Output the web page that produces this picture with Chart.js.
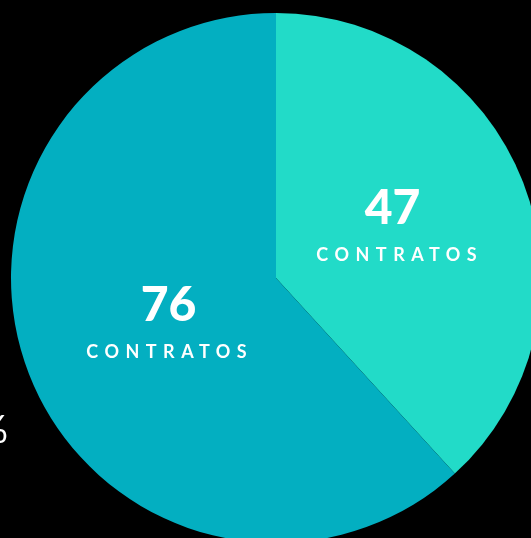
<!DOCTYPE html>
<html>
<head>
<meta charset="utf-8">
<script src="https://cdn.jsdelivr.net/npm/chart.js@4"></script>
<style>
  html, body { margin: 0; padding: 0; background: #000; }
  #wrap { position: relative; width: 531px; height: 538px; overflow: hidden; background: #000; }
  #chart { position: absolute; left: 0; top: 0; }
</style>
</head>
<body>
<div id="wrap"><canvas id="chart" width="560" height="560"></canvas></div>
<script>
// Chart data
const labels = ['Contratos A', 'Contratos B'];
const values = [47, 76];
const captions = ['CONTRATOS', 'CONTRATOS'];
const colors = ['#22dbc8', '#03afc1'];

// Draws the number + caption on each slice, and the stray "%" at the left edge
const sliceLabels = {
  id: 'sliceLabels',
  afterDatasetsDraw(chart) {
    const ctx = chart.ctx;
    const meta = chart.getDatasetMeta(0);
    // number baseline offset from slice centroid, caption shift
    const offsets = [{ x: -7, y: -6, cx: 4 }, { x: 16, y: -5, cx: -2 }];
    const spacing = 6.5;
    ctx.save();
    ctx.fillStyle = '#ffffff';
    ctx.textAlign = 'center';
    ctx.textBaseline = 'alphabetic';
    meta.data.forEach((arc, i) => {
      const pos = arc.tooltipPosition();
      const x = pos.x + offsets[i].x;
      const y = pos.y + offsets[i].y;
      ctx.font = '900 48px Lato';
      ctx.fillText(String(values[i]), x, y);
      ctx.font = 'bold 18px Lato';
      ctx.letterSpacing = spacing + 'px';
      ctx.fillText(captions[i], x + offsets[i].cx + spacing / 2, y + 37);
      ctx.letterSpacing = '0px';
    });
    ctx.textAlign = 'right';
    ctx.font = '38px Lato';
    ctx.fillText('%', 8, 443);
    ctx.restore();
  }
};

new Chart(document.getElementById('chart'), {
  type: 'pie',
  data: {
    labels: labels,
    datasets: [{
      data: values,
      backgroundColor: colors,
      borderWidth: 0
    }]
  },
  options: {
    responsive: false,
    animation: false,
    layout: { padding: { left: 11, top: 13, right: 19, bottom: 17 } },
    plugins: {
      legend: { display: false },
      tooltip: { enabled: false }
    }
  },
  plugins: [sliceLabels]
});
</script>
</body>
</html>
